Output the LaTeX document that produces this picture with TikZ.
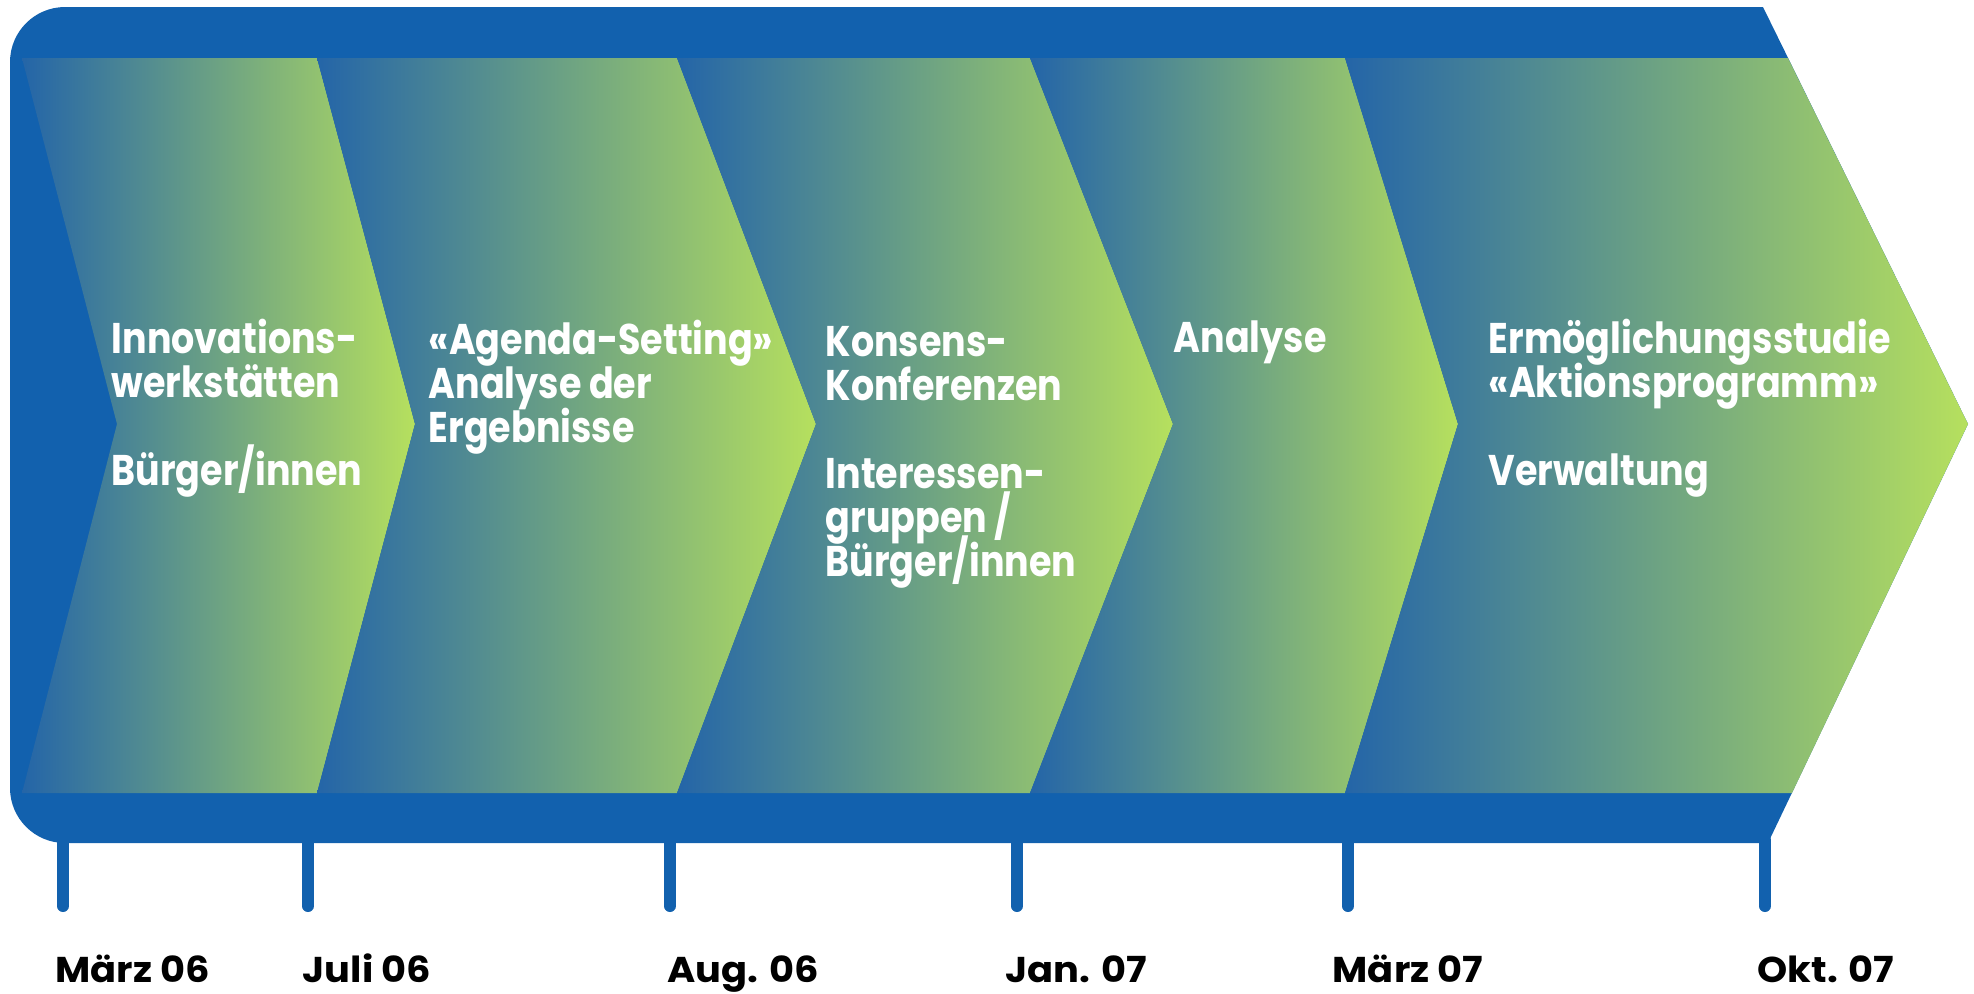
\documentclass[tikz,border=0pt]{standalone}
\usepackage{fontspec}
\setmainfont{Poppins}
\newfontfamily\phasefont{Poppins}[FakeStretch=0.85]
\newfontfamily\datefont{Poppins}[FakeStretch=1.07]
\definecolor{bandblue}{RGB}{18,97,174}
\definecolor{gradblue}{RGB}{36,101,168}
\definecolor{gradgreen}{RGB}{182,224,94}
\tikzset{
  phase/.style={left color=gradblue, right color=gradgreen},
  phasetext/.style={anchor=base west, inner sep=0pt, text=white, align=left,
    font={\phasefont\bfseries\fontsize{12.2}{12.5}\selectfont\lineskiplimit -20pt\relax}},
  datelabel/.style={anchor=base west, inner sep=0pt, font=\datefont\bfseries\fontsize{10.2}{12}\selectfont},
  tickline/.style={draw=bandblue, line width=0.12cm, line cap=round}
}
\begin{document}
\begin{tikzpicture}[x=0.01cm, y=-0.01cm]
	\useasboundingbox (0,0) rectangle (1974,993);
	\fill[bandblue] (500,7) -- (1763,7) -- (1968,424) -- (1768,843) -- (500,843) [rounded corners=0.55cm] -- (10,843) -- (10,7) -- cycle;
	\shade[phase] (22,58) -- (317,58) -- (415,424) -- (317,793) -- (22,793) -- (117,424) -- cycle;
	\shade[phase] (317,58) -- (677,58) -- (816,424) -- (677,793) -- (317,793) -- (415,424) -- cycle;
	\shade[phase] (677,58) -- (1030,58) -- (1173,424) -- (1030,793) -- (677,793) -- (816,424) -- cycle;
	\shade[phase] (1030,58) -- (1345,58) -- (1458,424) -- (1345,793) -- (1030,793) -- (1173,424) -- cycle;
	\shade[phase] (1345,58) -- (1788,58) -- (1968,424) -- (1792,793) -- (1345,793) -- (1458,424) -- cycle;
	% base is the last line of each block
	\node[phasetext] (innov) at (111,485) {Innovations-\\werkstätten\\[12.5pt]Bürger/innen};
	\node[phasetext] (agenda) at (428,442) {«Agenda-Setting»\\Analyse der\\Ergebnisse};
	\node[phasetext] (konsens) at (825,576) {Konsens-\\Konferenzen\\[12.5pt]Interessen-\\gruppen /\\Bürger/innen};
	\node[phasetext] (analyse) at (1173,352) {Analyse};
	\node[phasetext] (studie) at (1488,485) {Ermöglichungsstudie\\«Aktionsprogramm»\\[12.5pt]Verwaltung};
	\foreach \x/\lx/\d [count=\i] in {63/55/März 06, 308/302/Juli 06, 670/667/Aug. 06, 1017/1005/Jan. 07, 1348/1332/März 07, 1765/1757/Okt. 07} {
		\draw[tickline] (\x,840) -- (\x,906);
		\node[datelabel] (date\i) at (\lx,982) {\d};
	}
\end{tikzpicture}
\end{document}
